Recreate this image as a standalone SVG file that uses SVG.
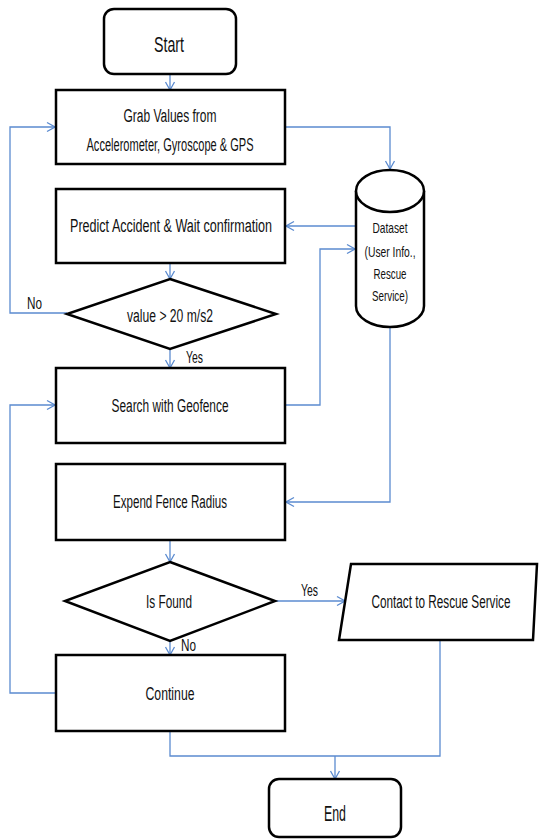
<svg xmlns="http://www.w3.org/2000/svg" width="539" height="839" viewBox="0 0 539 839">
  <style>
    .box { fill: #ffffff; stroke: #000000; stroke-width: 2.5; }
    .txt { font-family: "Liberation Sans", Arial, sans-serif; font-size: 18px; fill: #111111; text-anchor: middle; }
    .big { font-size: 22px; }
    .small { font-size: 15px; }
    .lbl { font-family: "Liberation Sans", Arial, sans-serif; font-size: 17px; fill: #111111; }
    .conn { fill: none; stroke: #5b8bd0; stroke-width: 1.3; }
  </style>
  <defs>
    <marker id="arrow" markerUnits="userSpaceOnUse" markerWidth="12" markerHeight="12" viewBox="0 0 12 12" refX="11" refY="6" orient="auto">
      <path d="M3,1.5 L11,6 L3,10.5" fill="none" stroke="#5b8bd0" stroke-width="1.3"/>
    </marker>
  </defs>

  <!-- connectors -->
  <g id="connectors">
    <path class="conn" d="M170,74 V90" marker-end="url(#arrow)"/>
    <path class="conn" d="M285,127 H390 V169" marker-end="url(#arrow)"/>
    <path class="conn" d="M356,226 H286" marker-end="url(#arrow)"/>
    <path class="conn" d="M170,263 V279" marker-end="url(#arrow)"/>
    <path class="conn" d="M67,313 H10 V127 H55" marker-end="url(#arrow)"/>
    <path class="conn" d="M170,349 V368" marker-end="url(#arrow)"/>
    <path class="conn" d="M285,405 H320 V249 H355" marker-end="url(#arrow)"/>
    <path class="conn" d="M390,327 V502 H286" marker-end="url(#arrow)"/>
    <path class="conn" d="M170,540 V562" marker-end="url(#arrow)"/>
    <path class="conn" d="M275,601 H345" marker-end="url(#arrow)"/>
    <path class="conn" d="M170,641 V655" marker-end="url(#arrow)"/>
    <path class="conn" d="M56,693 H10 V405 H55" marker-end="url(#arrow)"/>
    <path class="conn" d="M170,731 V756 H440 V640"/>
    <path class="conn" d="M335,756 V779" marker-end="url(#arrow)"/>
    <text class="lbl" x="27" y="309" textLength="15" lengthAdjust="spacingAndGlyphs">No</text>
    <text class="lbl" x="186" y="363" textLength="17" lengthAdjust="spacingAndGlyphs">Yes</text>
    <text class="lbl" x="301" y="596" textLength="17" lengthAdjust="spacingAndGlyphs">Yes</text>
    <text class="lbl" x="181" y="651" textLength="15" lengthAdjust="spacingAndGlyphs">No</text>
  </g>

  <g id="start">
    <rect class="box" x="104" y="9" width="132" height="65" rx="10"/>
    <text class="txt big" x="169" y="52" textLength="30" lengthAdjust="spacingAndGlyphs">Start</text>
  </g>

  <g id="grab">
    <rect class="box" x="56" y="90" width="229" height="74"/>
    <text class="txt" x="170" y="122" textLength="93" lengthAdjust="spacingAndGlyphs">Grab Values from</text>
    <text class="txt" x="170" y="151" textLength="167" lengthAdjust="spacingAndGlyphs">Accelerometer, Gyroscope &amp; GPS</text>
  </g>

  <g id="dataset">
    <path class="box" d="M356,191 V306 A34,21 0 0 0 424,306 V191"/>
    <ellipse class="box" cx="390" cy="191" rx="34" ry="21"/>
    <text class="txt small" x="390" y="233" textLength="35" lengthAdjust="spacingAndGlyphs">Dataset</text>
    <text class="txt small" x="390" y="257" textLength="51" lengthAdjust="spacingAndGlyphs">(User Info.,</text>
    <text class="txt small" x="390" y="279" textLength="33" lengthAdjust="spacingAndGlyphs">Rescue</text>
    <text class="txt small" x="390" y="301" textLength="36" lengthAdjust="spacingAndGlyphs">Service)</text>
  </g>

  <g id="predict">
    <rect class="box" x="56" y="189" width="229" height="74"/>
    <text class="txt" x="171" y="232" textLength="202" lengthAdjust="spacingAndGlyphs">Predict Accident &amp; Wait confirmation</text>
  </g>

  <g id="threshold">
    <polygon class="box" points="170,279 276,314 170,349 67,314"/>
    <text class="txt" x="170" y="322" textLength="86" lengthAdjust="spacingAndGlyphs">value &gt; 20 m/s2</text>
  </g>

  <g id="search">
    <rect class="box" x="56" y="368" width="229" height="75"/>
    <text class="txt" x="170" y="412" textLength="117" lengthAdjust="spacingAndGlyphs">Search with Geofence</text>
  </g>

  <g id="expend">
    <rect class="box" x="56" y="464" width="229" height="76"/>
    <text class="txt" x="170" y="508" textLength="114" lengthAdjust="spacingAndGlyphs">Expend Fence Radius</text>
  </g>

  <g id="found">
    <polygon class="box" points="170,562 275,601 170,641 65,601"/>
    <text class="txt" x="169" y="608" textLength="46" lengthAdjust="spacingAndGlyphs">Is Found</text>
  </g>

  <g id="contact">
    <polygon class="box" points="351,564 537,564 533,640 339,640"/>
    <text class="txt" x="441" y="608" textLength="139" lengthAdjust="spacingAndGlyphs">Contact to Rescue Service</text>
  </g>

  <g id="continue">
    <rect class="box" x="56" y="655" width="229" height="76"/>
    <text class="txt" x="170" y="700" textLength="49" lengthAdjust="spacingAndGlyphs">Continue</text>
  </g>

  <g id="end">
    <rect class="box" x="269" y="779" width="132" height="58" rx="10"/>
    <text class="txt big" x="335" y="821" textLength="22" lengthAdjust="spacingAndGlyphs">End</text>
  </g>
</svg>
